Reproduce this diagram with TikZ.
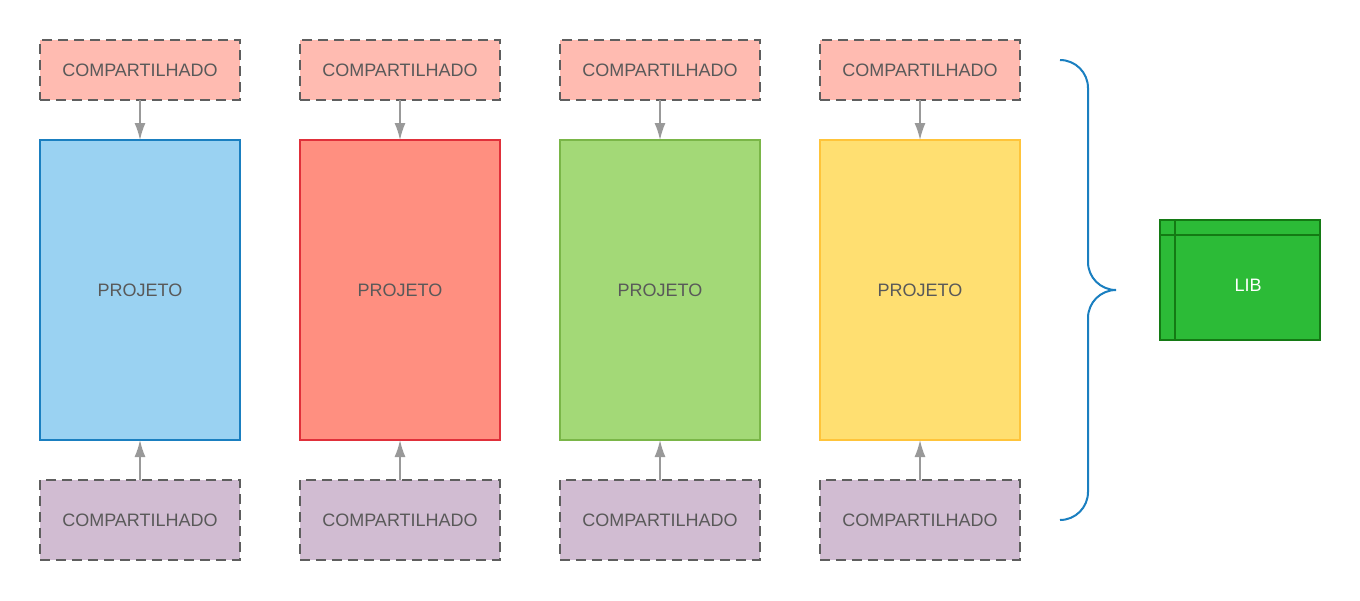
\documentclass[tikz,border=0pt]{standalone}
\usepackage{fontspec}
\setmainfont{Liberation Sans}
\usetikzlibrary{positioning,arrows,arrows.meta}
\definecolor{txtgray}{HTML}{595959}
\definecolor{dashgray}{HTML}{5E5E5E}
\definecolor{arrowgray}{HTML}{999999}
\definecolor{topo}{HTML}{FFBBB1}
\definecolor{fundo}{HTML}{D1BCD2}
\definecolor{azulfill}{HTML}{9AD2F2}
\definecolor{azulline}{HTML}{1A7FC0}
\definecolor{vermfill}{HTML}{FF8F80}
\definecolor{vermline}{HTML}{E0303A}
\definecolor{verdefill}{HTML}{A3D977}
\definecolor{verdeline}{HTML}{7AB648}
\definecolor{amarfill}{HTML}{FFDF71}
\definecolor{amarline}{HTML}{FFC43A}
\definecolor{libfill}{HTML}{2CBB37}
\definecolor{libline}{HTML}{147A14}
\definecolor{chavecor}{HTML}{1A7FC0}
\tikzset{
>={Latex[length=17pt,width=11pt]},
  projeto/.style={
    rectangle,
    line width=1.5pt,
    outer sep=0pt,
    minimum width=200pt,
    minimum height=300pt,
    text=txtgray,
    font=\fontsize{18}{21}\selectfont},
  compart/.style={
    rectangle,
    draw=dashgray, line width=2pt,
    outer sep=0pt,
    dash pattern=on 10pt off 6pt,
    minimum width=200pt,
    text=txtgray,
    font=\fontsize{18}{21}\selectfont},
  seta/.style={draw=arrowgray, fill=arrowgray, line width=1.5pt, ->},
  chave/.style={draw=chavecor, line width=2pt},
  libbox/.style={
    rectangle,
    fill=libfill,
    draw=libline, line width=2pt,
    minimum width=160pt,
    minimum height=120pt},
}
\begin{document}
\begin{tikzpicture}[x=1pt,y=-1pt]
  \useasboundingbox (0,0) rectangle (1360,600);
  \foreach \i/\cor in {1/azul,2/verm,3/verde,4/amar}
  {
    \node[projeto, fill=\cor fill, draw=\cor line] (proj\i)
      at ({140+260*(\i-1)},290) {PROJETO};
    \node[compart, fill=topo, minimum height=60pt, above=40pt of proj\i]
      (cima\i) {COMPARTILHADO};
    \node[compart, fill=fundo, minimum height=80pt, below=40pt of proj\i]
      (baixo\i) {COMPARTILHADO};
    \draw[seta] (cima\i) -- (proj\i);
    \draw[seta] (baixo\i) -- (proj\i);
  }
  % chave
  \draw[chave] (1060,60)
    arc[start angle=90, end angle=0, radius=28pt] -- (1088,262)
    arc[start angle=180, end angle=270, radius=28pt]
    arc[start angle=90, end angle=180, radius=28pt] -- (1088,492)
    arc[start angle=0, end angle=-90, radius=28pt];
  % lib
  \node[libbox] (lib) at (1240,280) {};
  \node[text=white, font=\fontsize{18}{21}\selectfont] (libtxt) at (1248,285) {LIB};
  \draw[libline, line width=2pt] ([xshift=16pt]lib.north west) -- ([xshift=16pt]lib.south west);
  \draw[libline, line width=2pt] ([yshift=-16pt]lib.north west) -- ([yshift=-16pt]lib.north east);
\end{tikzpicture}
\end{document}
